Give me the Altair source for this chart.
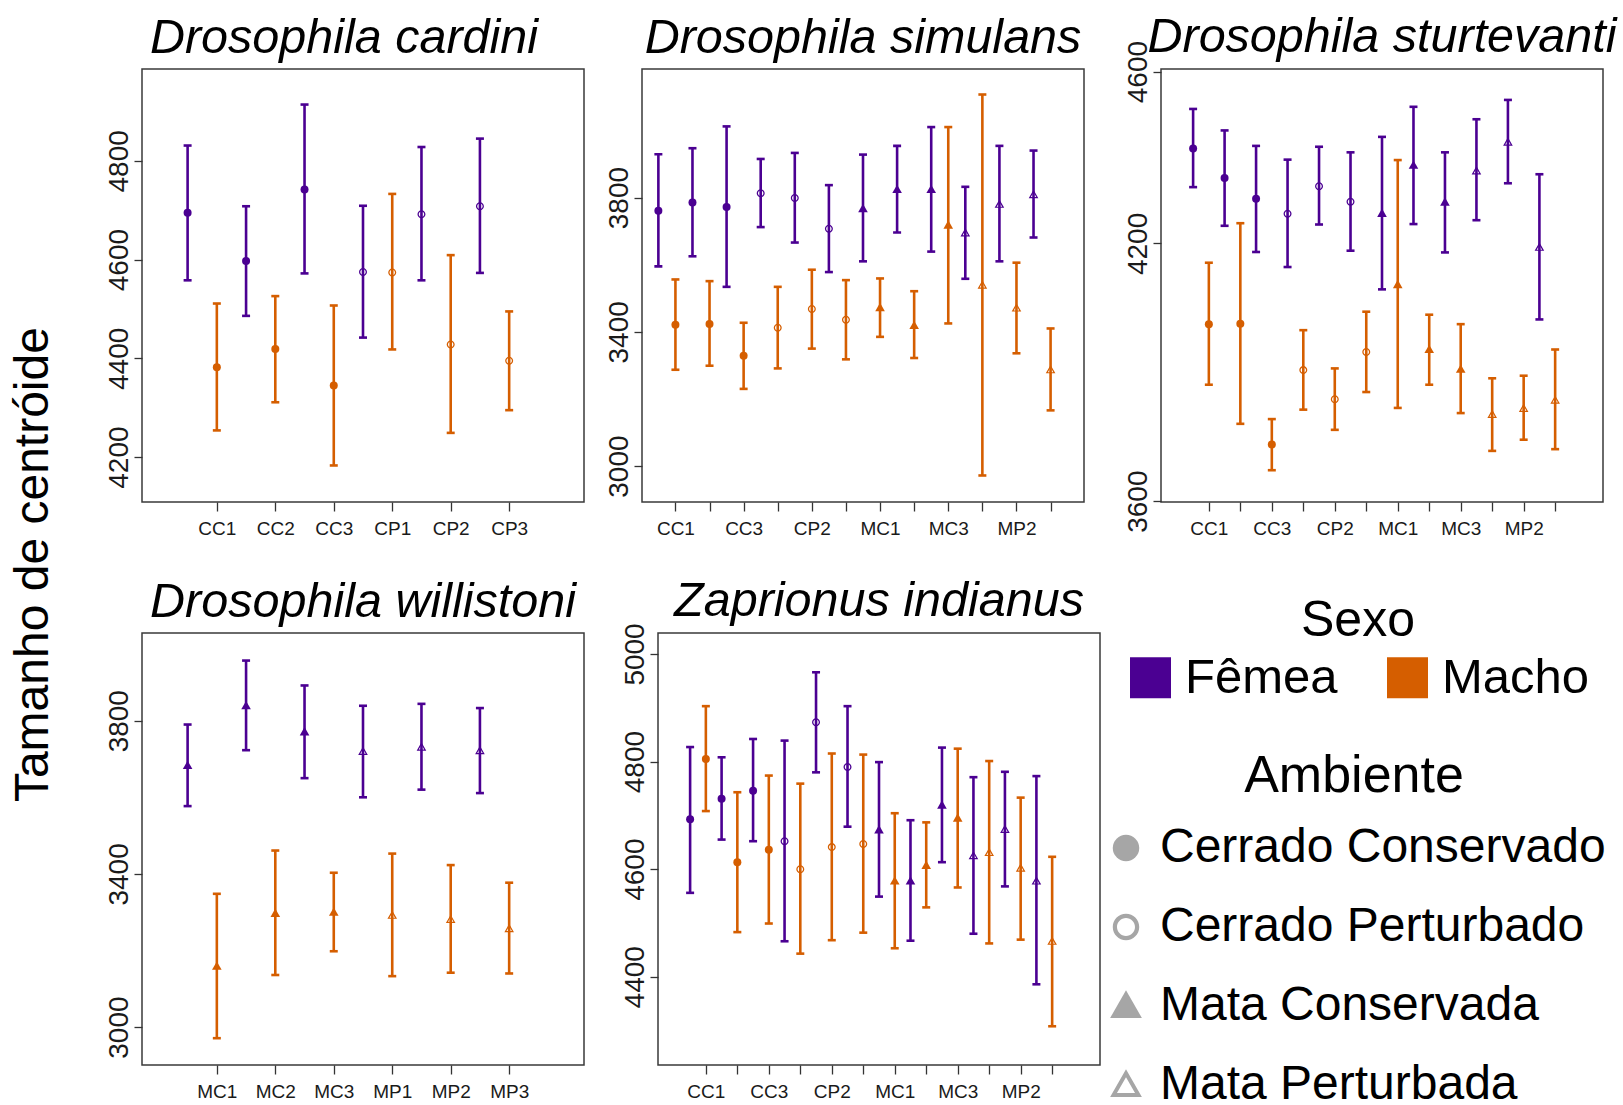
import json
import altair as alt
import pandas as pd

FONT = "Liberation Sans"
PURPLE = "#4B0092"
ORANGE = "#D55E00"

# Site codes
SITES6_C = ["CC1", "CC2", "CC3", "CP1", "CP2", "CP3"]
SITES6_M = ["MC1", "MC2", "MC3", "MP1", "MP2", "MP3"]
SITES12 = ["CC1", "CC2", "CC3", "CP1", "CP2", "CP3",
           "MC1", "MC2", "MC3", "MP1", "MP2", "MP3"]

AMBIENTES = ["Cerrado Conservado", "Cerrado Perturbado",
             "Mata Conservada", "Mata Perturbada"]
AMB_BY_PREFIX = dict(zip(["CC", "CP", "MC", "MP"], AMBIENTES))
SEXOS = ["Fêmea", "Macho"]
SEX_CODES = ["f", "m"]

# Drosophila cardini
card_f_mean = [4695, 4597, 4742, 4575, 4692, 4708]
card_f_lo = [4558, 4486, 4572, 4442, 4558, 4573]
card_f_hi = [4831, 4708, 4914, 4709, 4828, 4845]
card_m_mean = [4382, 4419, 4345, 4574, 4428, 4395]
card_m_lo = [4254, 4311, 4183, 4418, 4249, 4295]
card_m_hi = [4511, 4526, 4507, 4733, 4609, 4495]

# Drosophila simulans
sim_f_mean = [3761, 3785, 3772, 3813, 3799, 3707, 3767, 3824, 3824, 3695, 3780, 3809]
sim_f_lo = [3595, 3625, 3534, 3712, 3666, 3578, 3610, 3696, 3639, 3558, 3610, 3681]
sim_f_hi = [3929, 3947, 4012, 3915, 3933, 3837, 3928, 3954, 4010, 3832, 3954, 3940]
sim_m_mean = [3421, 3423, 3329, 3412, 3468, 3436, 3472, 3419, 3718, 3539, 3471, 3287]
sim_m_lo = [3287, 3299, 3230, 3291, 3350, 3318, 3385, 3322, 3425, 2972, 3336, 3166]
sim_m_hi = [3556, 3551, 3427, 3534, 3585, 3554, 3559, 3521, 4010, 4107, 3606, 3410]

# Drosophila sturtevanti
stu_f_mean = [4421, 4352, 4304, 4269, 4333, 4297, 4270, 4382, 4296, 4369, 4436, 4191]
stu_f_lo = [4331, 4241, 4180, 4145, 4244, 4183, 4093, 4245, 4179, 4254, 4340, 4023]
stu_f_hi = [4513, 4463, 4427, 4395, 4425, 4412, 4448, 4518, 4412, 4489, 4534, 4361]
stu_m_mean = [4012, 4013, 3732, 3905, 3837, 3947, 4104, 3953, 3907, 3802, 3816, 3835]
stu_m_lo = [3871, 3780, 3672, 3813, 3766, 3854, 3817, 3871, 3805, 3717, 3743, 3721]
stu_m_hi = [4155, 4247, 3791, 3998, 3909, 4041, 4394, 4034, 4012, 3886, 3892, 3953]

# Drosophila willistoni
wil_f_mean = [3683, 3839, 3771, 3720, 3731, 3722]
wil_f_lo = [3577, 3723, 3650, 3600, 3620, 3611]
wil_f_hi = [3790, 3957, 3892, 3839, 3844, 3833]
wil_m_mean = [3159, 3297, 3300, 3292, 3281, 3257]
wil_m_lo = [2971, 3136, 3198, 3133, 3142, 3140]
wil_m_hi = [3348, 3461, 3403, 3453, 3423, 3377]

# Zaprionus indianus
zap_f_mean = [4693, 4731, 4746, 4652, 4873, 4790, 4673, 4578, 4719, 4625, 4674, 4578]
zap_f_lo = [4556, 4655, 4652, 4466, 4780, 4679, 4549, 4467, 4613, 4480, 4568, 4386]
zap_f_hi = [4827, 4808, 4842, 4839, 4966, 4903, 4799, 4691, 4826, 4771, 4781, 4773]
zap_m_mean = [4805, 4613, 4636, 4600, 4641, 4647, 4578, 4607, 4695, 4631, 4602, 4466]
zap_m_lo = [4708, 4483, 4499, 4443, 4468, 4482, 4453, 4529, 4566, 4462, 4469, 4308]
zap_m_hi = [4903, 4743, 4774, 4759, 4815, 4813, 4704, 4687, 4824, 4801, 4733, 4623]

# Point symbols: filled circle, ring, filled triangle, hollow triangle
RING = ("M -1 0 A 1 1 0 1 1 1 0 A 1 1 0 1 1 -1 0 Z "
        "M -0.68 0 A 0.68 0.68 0 1 0 0.68 0 A 0.68 0.68 0 1 0 -0.68 0 Z")
TRI = "M 0 -1.2 L 1.2 0.9 L -1.2 0.9 Z"
TRI_OPEN = TRI + " M 0 -0.595 L -0.683 0.6 L 0.683 0.6 Z"
SHAPES = ["circle", RING, TRI, TRI_OPEN]

PW = 442  # plot width of every panel


def frame(sites, fm, flo, fhi, mm, mlo, mhi):
    rows = []
    for i, s in enumerate(sites):
        amb = AMB_BY_PREFIX[s[:2]]
        rows.append(dict(site=s, idx=i + 1, sex="Fêmea", code="f",
                         mean=fm[i], lo=flo[i], hi=fhi[i], amb=amb))
        rows.append(dict(site=s, idx=i + 1, sex="Macho", code="m",
                         mean=mm[i], lo=mlo[i], hi=mhi[i], amb=amb))
    return pd.DataFrame(rows)


# the point colours carry the legend; the error bars use a short code with the same colours
sex_scale = alt.Scale(domain=SEXOS, range=[PURPLE, ORANGE])
code_scale = alt.Scale(domain=SEX_CODES, range=[PURPLE, ORANGE])

sexo_legend = alt.Legend(
    title="Sexo", orient="none", legendX=984, legendY=527,
    direction="horizontal", columns=2, padding=0,
    symbolType="square", symbolSize=1681, symbolStrokeWidth=0, symbolOpacity=1,
    labelFont=FONT, labelFontSize=49, labelColor="black", labelOffset=10, labelLimit=0,
    titleFont=FONT, titleFontSize=50, titleFontWeight="normal", titleColor="black",
    titleAnchor="middle", titlePadding=7, titleLimit=0, columnPadding=45,
)
ambiente_legend = alt.Legend(
    title="Ambiente", orient="none", legendX=960, legendY=682, padding=0,
    symbolSize=700, symbolFillColor="#A6A6A6", symbolStrokeWidth=0, symbolOpacity=1,
    labelFont=FONT, labelFontSize=48, labelColor="black", labelOffset=10, labelLimit=0,
    titleFont=FONT, titleFontSize=52, titleFontWeight="normal", titleColor="black",
    titleAnchor="middle", titlePadding=21, titleLimit=0, rowPadding=31,
)


def panel(df, sites, title, xdom, ydom, yticks, height, every_other,
          title_offset=-32, title_dx=0):
    arr = json.dumps(sites)
    if every_other:
        expr = f"datum.value % 2 == 1 ? {arr}[datum.value - 1] : ''"
    else:
        expr = f"{arr}[datum.value - 1]"

    x = alt.X(
        "pos:Q",
        scale=alt.Scale(domain=xdom, nice=False, zero=False),
        axis=alt.Axis(
            values=list(range(1, len(sites) + 1)), labelExpr=expr, title=None,
            grid=False, domain=False, tickSize=9, tickColor="#333333", tickWidth=1.3,
            labelFont=FONT, labelFontSize=19, labelColor="#1a1a1a", labelPadding=8,
            labelAngle=0, labelOverlap=False, labelFlush=False,
        ),
    )
    yscale = alt.Scale(domain=ydom, nice=False, zero=False)
    yaxis = alt.Axis(
        values=yticks, format="d", title=None, grid=False, domain=False,
        tickSize=8, tickColor="#333333", tickWidth=1.3,
        labelFont=FONT, labelFontSize=28, labelColor="#1a1a1a",
        labelAngle=270, labelAlign="center", labelBaseline="alphabetic",
        labelPadding=7, labelOverlap=False, labelFlush=False,
    )

    base = alt.Chart(df).transform_calculate(
        pos="datum.idx - (datum.sex === 'Fêmea' ? 0.5 : 0)"
    )
    bars = base.mark_rule(strokeWidth=2.6).encode(
        x=x, y=alt.Y("lo:Q", scale=yscale, axis=yaxis), y2="hi:Q",
        stroke=alt.Stroke("code:N", scale=code_scale, legend=None),
    )
    cap_lo = base.mark_tick(orient="horizontal", size=8, thickness=2.6, opacity=1).encode(
        x=x, y=alt.Y("lo:Q", scale=yscale, axis=yaxis),
        fill=alt.Fill("code:N", scale=code_scale, legend=None),
    )
    cap_hi = base.mark_tick(orient="horizontal", size=8, thickness=2.6, opacity=1).encode(
        x=x, y=alt.Y("hi:Q", scale=yscale, axis=yaxis),
        fill=alt.Fill("code:N", scale=code_scale, legend=None),
    )
    pts = base.mark_point(filled=True, opacity=1, size=64, strokeWidth=0).encode(
        x=x, y=alt.Y("mean:Q", scale=yscale, axis=yaxis),
        color=alt.Color("sex:N", scale=sex_scale, legend=sexo_legend),
        shape=alt.Shape("amb:N", scale=alt.Scale(domain=AMBIENTES, range=SHAPES),
                        legend=ambiente_legend),
    )
    return alt.layer(bars, cap_lo, cap_hi, pts).properties(
        width=PW, height=height,
        title=alt.TitleParams(
            title, font=FONT, fontSize=48.5, fontStyle="italic", fontWeight="normal",
            color="black", anchor="middle", frame="group", baseline="alphabetic",
            offset=title_offset, dx=title_dx,
        ),
    )


def gap(width, height):
    # empty cell that only reserves horizontal room between panels
    return alt.Chart(pd.DataFrame({"g": [0]})).mark_point(opacity=0).properties(
        width=width, height=height, view=alt.ViewBackground(strokeOpacity=0),
    )


p1 = panel(frame(SITES6_C, card_f_mean, card_f_lo, card_f_hi, card_m_mean, card_m_lo, card_m_hi),
           SITES6_C, "Drosophila cardini", [-0.28, 7.28], [4109, 4986],
           [4200, 4400, 4600, 4800], 433, False, title_dx=-19)
p2 = panel(frame(SITES12, sim_f_mean, sim_f_lo, sim_f_hi, sim_m_mean, sim_m_lo, sim_m_hi),
           SITES12, "Drosophila simulans", [0.02, 12.98], [2893, 4183],
           [3000, 3400, 3800], 433, True)
p3 = panel(frame(SITES12, stu_f_mean, stu_f_lo, stu_f_hi, stu_m_mean, stu_m_lo, stu_m_hi),
           SITES12, "Drosophila sturtevanti", [-0.52, 13.52], [3598, 4606],
           [3600, 4200, 4600], 433, True, title_offset=-60)
p4 = panel(frame(SITES6_M, wil_f_mean, wil_f_lo, wil_f_hi, wil_m_mean, wil_m_lo, wil_m_hi),
           SITES6_M, "Drosophila willistoni", [-0.28, 7.28], [2901, 4029],
           [3000, 3400, 3800], 432, False)
p5 = panel(frame(SITES12, zap_f_mean, zap_f_lo, zap_f_hi, zap_m_mean, zap_m_lo, zap_m_hi),
           SITES12, "Zaprionus indianus", [-0.52, 13.52], [4236, 5039],
           [4400, 4600, 4800, 5000], 432, True, title_offset=-42)

shared = dict(color="shared", shape="shared", fill="shared", stroke="shared")
row1 = alt.hconcat(p1, gap(58, 433), p2, gap(77, 433), p3,
                   spacing=0, bounds="flush").resolve_scale(**shared)
row2 = alt.hconcat(p4, gap(74, 432), p5,
                   spacing=0, bounds="flush").resolve_scale(**shared)

chart = (
    alt.vconcat(row1, row2, spacing=37)
    .resolve_scale(**shared)
    .properties(
        title=alt.TitleParams(
            "Tamanho de centróide", orient="left", anchor="middle", font=FONT,
            fontSize=48, fontWeight="normal", color="black", offset=46, dx=-4,
        ),
        padding={"left": 10, "top": 12, "right": 0, "bottom": 0},
        background="white",
    )
    .configure(font=FONT)
    .configure_view(stroke="#3a3a3a", strokeWidth=1.5)
)

chart.save("out.html", embed_options={"renderer": "svg", "actions": False})
